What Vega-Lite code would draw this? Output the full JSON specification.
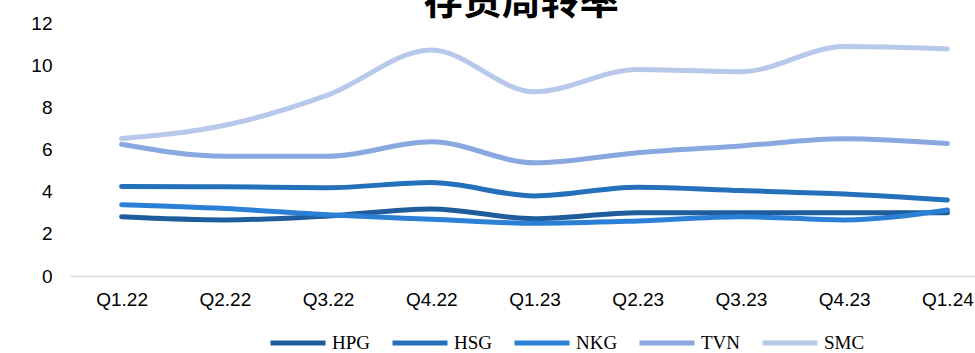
{
  "$schema": "https://vega.github.io/schema/vega-lite/v6.json",
  "autosize": {"type": "none"},
  "width": 905,
  "height": 253,
  "padding": {"left": 70, "top": 23, "right": 0, "bottom": 77},
  "background": "white",
  "config": {"view": {"stroke": null}},
  "title": {
    "text": "存货周转率",
    "font": "Noto Sans CJK SC",
    "fontSize": 39,
    "fontWeight": "bold",
    "color": "#000000",
    "anchor": "start",
    "dx": 393,
    "offset": -8
  },
  "data": {
    "values": [
      {"q": "Q1.22", "s": "HPG", "v": 2.81}, {"q": "Q2.22", "s": "HPG", "v": 2.66}, {"q": "Q3.22", "s": "HPG", "v": 2.85},
      {"q": "Q4.22", "s": "HPG", "v": 3.18}, {"q": "Q1.23", "s": "HPG", "v": 2.72}, {"q": "Q2.23", "s": "HPG", "v": 3.0},
      {"q": "Q3.23", "s": "HPG", "v": 3.0}, {"q": "Q4.23", "s": "HPG", "v": 3.0}, {"q": "Q1.24", "s": "HPG", "v": 3.0},
      {"q": "Q1.22", "s": "HSG", "v": 4.24}, {"q": "Q2.22", "s": "HSG", "v": 4.23}, {"q": "Q3.22", "s": "HSG", "v": 4.19},
      {"q": "Q4.22", "s": "HSG", "v": 4.43}, {"q": "Q1.23", "s": "HSG", "v": 3.8}, {"q": "Q2.23", "s": "HSG", "v": 4.21},
      {"q": "Q3.23", "s": "HSG", "v": 4.05}, {"q": "Q4.23", "s": "HSG", "v": 3.89}, {"q": "Q1.24", "s": "HSG", "v": 3.6},
      {"q": "Q1.22", "s": "NKG", "v": 3.38}, {"q": "Q2.22", "s": "NKG", "v": 3.2}, {"q": "Q3.22", "s": "NKG", "v": 2.9},
      {"q": "Q4.22", "s": "NKG", "v": 2.69}, {"q": "Q1.23", "s": "NKG", "v": 2.5}, {"q": "Q2.23", "s": "NKG", "v": 2.61},
      {"q": "Q3.23", "s": "NKG", "v": 2.81}, {"q": "Q4.23", "s": "NKG", "v": 2.66}, {"q": "Q1.24", "s": "NKG", "v": 3.13},
      {"q": "Q1.22", "s": "TVN", "v": 6.25}, {"q": "Q2.22", "s": "TVN", "v": 5.68}, {"q": "Q3.22", "s": "TVN", "v": 5.68},
      {"q": "Q4.22", "s": "TVN", "v": 6.37}, {"q": "Q1.23", "s": "TVN", "v": 5.37}, {"q": "Q2.23", "s": "TVN", "v": 5.85},
      {"q": "Q3.23", "s": "TVN", "v": 6.17}, {"q": "Q4.23", "s": "TVN", "v": 6.51}, {"q": "Q1.24", "s": "TVN", "v": 6.28},
      {"q": "Q1.22", "s": "SMC", "v": 6.52}, {"q": "Q2.22", "s": "SMC", "v": 7.15}, {"q": "Q3.22", "s": "SMC", "v": 8.59},
      {"q": "Q4.22", "s": "SMC", "v": 10.72}, {"q": "Q1.23", "s": "SMC", "v": 8.74}, {"q": "Q2.23", "s": "SMC", "v": 9.8},
      {"q": "Q3.23", "s": "SMC", "v": 9.69}, {"q": "Q4.23", "s": "SMC", "v": 10.88}, {"q": "Q1.24", "s": "SMC", "v": 10.77}
    ]
  },
  "mark": {"type": "line", "interpolate": "monotone", "strokeWidth": 5, "strokeCap": "round", "strokeJoin": "round"},
  "encoding": {
    "x": {
      "field": "q",
      "type": "ordinal",
      "sort": null,
      "scale": {"type": "point", "padding": 0.5, "range": [0, 929]},
      "axis": {
        "title": null,
        "labelAngle": 0,
        "labelFont": "Liberation Sans",
        "labelFontSize": 19,
        "labelColor": "#000000",
        "labelPadding": 14,
        "ticks": false,
        "domainColor": "#d9d9d9",
        "domainWidth": 1.5,
        "grid": false
      }
    },
    "y": {
      "field": "v",
      "type": "quantitative",
      "scale": {"domain": [0, 12]},
      "axis": {
        "title": null,
        "values": [0, 2, 4, 6, 8, 10, 12],
        "labelFont": "Liberation Sans",
        "labelFontSize": 19,
        "labelColor": "#000000",
        "labelPadding": 18,
        "ticks": false,
        "domain": false,
        "grid": false
      }
    },
    "color": {
      "field": "s",
      "type": "nominal",
      "sort": ["HPG", "HSG", "NKG", "TVN", "SMC"],
      "scale": {
        "domain": ["HPG", "HSG", "NKG", "TVN", "SMC"],
        "range": ["#1f5c9c", "#2470ba", "#2b80d6", "#88a8df", "#b7c8ea"]
      },
      "legend": {
        "title": null,
        "orient": "none",
        "direction": "horizontal",
        "columns": 5,
        "legendX": 198,
        "legendY": 290,
        "padding": 0,
        "symbolType": "stroke",
        "symbolSize": 3025,
        "symbolStrokeWidth": 5,
        "labelFont": "Liberation Serif",
        "labelFontSize": 19,
        "labelColor": "#000000",
        "labelOffset": 4,
        "columnPadding": 11
      }
    }
  }
}
